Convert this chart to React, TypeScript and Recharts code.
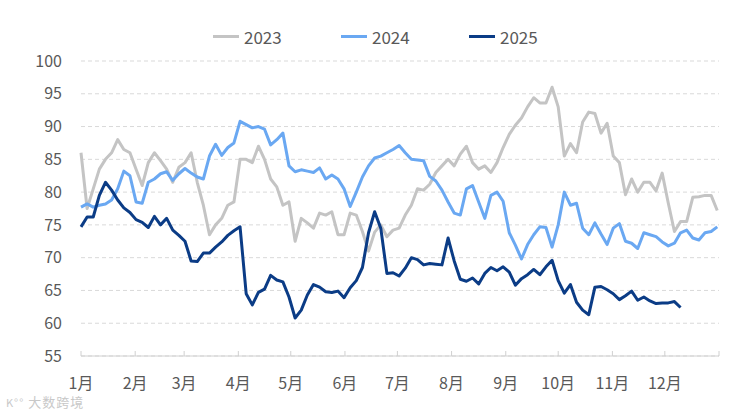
import React from 'react';
import { LineChart, Line, XAxis, YAxis, CartesianGrid } from 'recharts';

// one point every 3.5 days, starting Jan 1
const STEP_DAYS = 3.5;

const monthStarts = [0, 31, 59, 90, 120, 151, 181, 212, 243, 273, 304, 334, 365];
const monthLabels = ['1月', '2月', '3月', '4月', '5月', '6月', '7月', '8月', '9月', '10月', '11月', '12月', ''];
const yTicks = [55, 60, 65, 70, 75, 80, 85, 90, 95, 100];

const values2023 = [
  86, 77.5, 80.5, 83.5, 85, 86, 88, 86.5, 86, 83.5,
  81, 84.5, 86, 84.8, 83.5, 81.5, 83.8, 84.5, 86, 81.5,
  78, 73.5, 75, 76, 78, 78.5, 85, 85, 84.5, 87,
  85, 82, 80.8, 78, 78.5, 72.5, 76, 75.3, 74.5, 76.8,
  76.5, 77, 73.5, 73.5, 76.8, 76.5, 74, 71, 73.9, 75,
  73.2, 74.2, 74.5, 76.5, 78, 80.5, 80.3, 81.2, 83, 84,
  85, 84, 85.8, 87, 84.5, 83.5, 84, 83, 84.5, 86.8,
  88.8, 90.2, 91.3, 93, 94.4, 93.6, 93.6, 96, 93, 85.5,
  87.4, 86, 90.7, 92.2, 92, 89, 90.5, 85.5, 84.5, 79.6,
  82, 80, 81.5, 81.5, 80.2, 82.9, 78.3, 74, 75.5, 75.5,
  79.2, 79.3, 79.5, 79.5, 77.2,
];

const values2024 = [
  77.7, 78.2, 77.7, 78, 78.2, 78.8, 80.5, 83.2, 82.5, 78.5,
  78.3, 81.5, 82, 82.8, 83.1, 81.8, 82.8, 83.6, 82.9, 82.3,
  82, 85.5, 87.3, 85.6, 86.8, 87.5, 90.8, 90.3, 89.8, 90,
  89.6, 87.2, 88, 89, 84, 83.1, 83.4, 83.2, 83, 83.7,
  82, 82.6, 82, 80.5, 77.8, 80, 82.3, 84, 85.2, 85.5,
  86, 86.5, 87.1, 86, 85, 84.9, 84.8, 82.4, 81.7, 80.3,
  78.5, 76.8, 76.5, 80.5, 81, 78.5, 76, 79.5, 80, 78.6,
  73.8, 71.9, 69.8, 72, 73.5, 74.7, 74.6, 71.6, 75, 80,
  78, 78.3, 74.5, 73.5, 75.3, 73.6, 72, 74.5, 75.2, 72.5,
  72.2, 71.4, 73.8, 73.5, 73.2, 72.4, 71.8, 72.2, 73.8, 74.2,
  73, 72.7, 73.8, 74, 74.7,
];

const values2025 = [
  74.7, 76.2, 76.2, 79.5, 81.5, 80.3, 78.8, 77.6, 76.9, 75.8,
  75.4, 74.6, 76.3, 75, 76, 74.2, 73.4, 72.5, 69.5, 69.4,
  70.7, 70.7, 71.6, 72.4, 73.4, 74.1, 74.7, 64.5, 62.8, 64.7,
  65.2, 67.3, 66.6, 66.3, 64, 60.8, 62, 64.3, 65.9, 65.5,
  64.8, 64.7, 64.9, 63.9, 65.4, 66.5, 68.5, 73.8, 77, 74.5,
  67.6, 67.7, 67.2, 68.4, 70, 69.7, 68.9, 69.1, 69, 68.9,
  73, 69.5, 66.7, 66.4, 66.9, 66, 67.6, 68.5, 68, 68.6,
  67.8, 65.8, 66.8, 67.4, 68.2, 67.4, 68.6, 69.6, 66.5, 64.6,
  65.9, 63.2, 62, 61.3, 65.5, 65.6, 65.1, 64.5, 63.6, 64.2,
  64.9, 63.5, 64, 63.4, 63, 63.1, 63.1, 63.3, 62.4,
];

const series = [
  { key: 'y2023', name: '2023', color: '#C4C4C4', values: values2023 },
  { key: 'y2024', name: '2024', color: '#6AA8F2', values: values2024 },
  { key: 'y2025', name: '2025', color: '#0B3C86', values: values2025 },
];

const data = values2023.map((_, i) => {
  const row: Record<string, number | undefined> = { day: i * STEP_DAYS };
  series.forEach((s) => {
    row[s.key] = s.values[i];
  });
  return row;
});

const FONT = '"Noto Sans CJK SC", "Noto Sans", sans-serif';
const TEXT = '#595959';

const MonthTick = (props: any) => {
  const { x, y, payload } = props;
  const label = monthLabels[monthStarts.indexOf(payload.value)];
  return (
    <g>
      <line x1={x} x2={x} y1={y - 5} y2={y} stroke="#D0D0D0" strokeWidth={1} />
      {label ? (
        <text x={x} y={y + 33} textAnchor="middle" fill={TEXT} fontSize={16} fontFamily={FONT}>
          {label}
        </text>
      ) : null}
    </g>
  );
};

export default function App() {
  return (
    <div style={{ position: 'absolute', left: 0, top: 0, width: 738, height: 413, background: '#fff', fontFamily: FONT }}>
      <div style={{ position: 'absolute', top: 25, left: 0, width: 738, height: 22 }}>
        {series.map((s, i) => (
          <div
            key={s.key}
            style={{ position: 'absolute', left: 213 + i * 128, top: 0, display: 'flex', alignItems: 'center', height: 22 }}
          >
            <span style={{ display: 'inline-block', width: 26, height: 3, background: s.color, marginRight: 5 }} />
            <span style={{ color: TEXT, fontSize: 17 }}>{s.name}</span>
          </div>
        ))}
      </div>
      <LineChart width={738} height={413} data={data} margin={{ top: 61, right: 19, bottom: 17, left: 0 }}>
        <CartesianGrid horizontal vertical={false} stroke="#D9D9D9" strokeDasharray="4 3" />
        <XAxis
          dataKey="day"
          type="number"
          domain={[0, 365]}
          ticks={monthStarts}
          interval={0}
          height={40}
          tickSize={0}
          tickMargin={0}
          tickLine={false}
          axisLine={{ stroke: '#D0D0D0' }}
          tick={<MonthTick />}
        />
        <YAxis
          domain={[55, 100]}
          ticks={yTicks}
          interval={0}
          width={81}
          axisLine={false}
          tickLine={false}
          tickSize={0}
          tickMargin={19}
          tick={{ fill: TEXT, fontSize: 16, fontFamily: FONT }}
        />
        {series.map((s) => (
          <Line
            key={s.key}
            type="linear"
            dataKey={s.key}
            name={s.name}
            stroke={s.color}
            strokeWidth={3}
            strokeLinejoin="round"
            dot={false}
            activeDot={false}
            isAnimationActive={false}
          />
        ))}
      </LineChart>
      <div style={{ position: 'absolute', left: 6, top: 394, color: '#C8C8C8', fontSize: 13, lineHeight: '16px', letterSpacing: 1 }}>
        <span style={{ fontSize: 11, marginRight: 4 }}>K°°</span>大数跨境
      </div>
    </div>
  );
}
